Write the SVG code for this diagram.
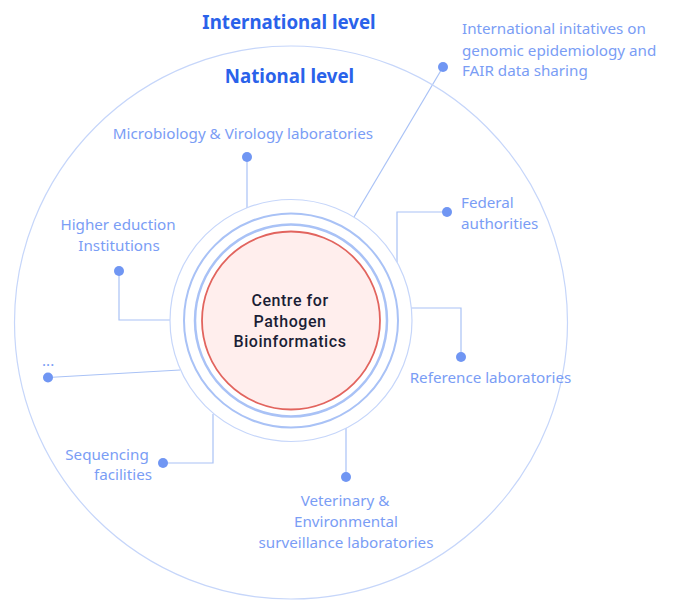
<svg xmlns="http://www.w3.org/2000/svg" width="700" height="604" viewBox="0 0 700 604">
<style>
text{font-family:"Noto Sans","Open Sans",sans-serif}
.l{font-size:15.200px;fill:#7a9df5;text-anchor:middle}
.s{font-size:15.200px;fill:#7a9df5;text-anchor:start}
.h{font-size:18.700px;font-weight:700;fill:#2a62ea;text-anchor:middle}
.c{font-family:"Roboto",sans-serif;font-size:16px;font-weight:500;fill:#1b1e36;text-anchor:middle;letter-spacing:.55px}
.w{fill:none;stroke:#a9c2f6;stroke-width:1.200}
.d{fill:#7096f3}
</style>
<rect width="700" height="604" fill="#fff"/>
<g id="connectors" class="w">
<path d="M247 157V209"/>
<path d="M443 67L354 217"/>
<path d="M447 212H397V263"/>
<path d="M461 357V308H411"/>
<path d="M346 477V427"/>
<path d="M163 463H213V414"/>
<path d="M48 377.500L180 370"/>
<path d="M119 271V320H170"/>
</g>
<g id="international-level"><circle cx="291" cy="322.500" r="276.500" fill="none" stroke="#c6d6fa" stroke-width="1.200"/><text class="h" x="289" y="28.500">International level</text></g>
<g id="national-level"><text class="h" x="289.500" y="82.500">National level</text></g>
<g id="centre">
<circle cx="291" cy="320.500" r="121" fill="#fff" stroke="#c6d6fa" stroke-width="1.200"/>
<circle cx="291" cy="320.500" r="107" fill="none" stroke="#a9c2f6" stroke-width="2"/>
<circle cx="291" cy="320.500" r="96" fill="none" stroke="#a9c2f6" stroke-width="2.500"/>
<circle cx="291" cy="320.500" r="89" fill="#ffeeed" stroke="#e2645e" stroke-width="1.800"/>
<text class="c" x="290" y="306">Centre for</text><text class="c" x="290" y="327">Pathogen</text><text class="c" x="290" y="347">Bioinformatics</text>
</g>
<g id="intl-initiatives"><circle class="d" cx="443" cy="67" r="5"/><text class="s" x="462" y="34">International initatives on</text><text class="s" x="462" y="56">genomic epidemiology and</text><text class="s" x="462" y="76">FAIR data sharing</text></g>
<g id="microbiology"><circle class="d" cx="247" cy="157" r="5"/><text class="l" x="243" y="139">Microbiology &amp; Virology laboratories</text></g>
<g id="federal"><circle class="d" cx="447" cy="212" r="5"/><text class="s" x="461" y="208">Federal</text><text class="s" x="461" y="229">authorities</text></g>
<g id="reference"><circle class="d" cx="461" cy="357" r="5"/><text class="l" x="490.500" y="383">Reference laboratories</text></g>
<g id="veterinary"><circle class="d" cx="346" cy="477" r="5"/><text class="l" x="345" y="506">Veterinary &amp;</text><text class="l" x="346" y="527">Environmental</text><text class="l" x="346" y="548">surveillance laboratories</text></g>
<g id="sequencing"><circle class="d" cx="163" cy="463" r="5"/><text class="l" x="107" y="460">Sequencing</text><text class="l" x="123" y="480">facilities</text></g>
<g id="other"><circle class="d" cx="48" cy="377.500" r="5"/><text class="s" x="42" y="366">...</text></g>
<g id="higher-education"><circle class="d" cx="119" cy="271" r="5"/><text class="l" x="118" y="230">Higher eduction</text><text class="l" x="119" y="251">Institutions</text></g>
</svg>
